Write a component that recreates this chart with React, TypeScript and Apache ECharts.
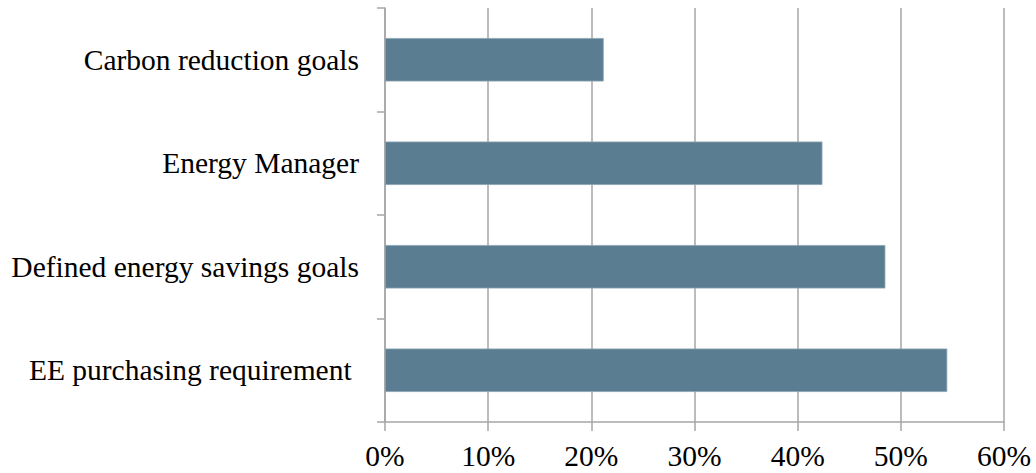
import React, { useEffect, useRef } from "react";
import * as echarts from "echarts";

const categories = [
  "Carbon reduction goals",
  "Energy Manager",
  "Defined energy savings goals",
  "EE purchasing requirement ",
];
const values = [21.2, 42.4, 48.5, 54.5];
const xTicks = { min: 0, max: 60, interval: 10 };

export default function App() {
  const ref = useRef<HTMLDivElement>(null);
  useEffect(() => {
    const chart = echarts.init(ref.current!, null, { renderer: "svg" });
    const font = "'Liberation Serif', 'Times New Roman', serif";
    const grey = "#a6a6a6";
    chart.setOption({
      animation: false,
      grid: { left: 385, right: 32, top: 8, bottom: 51, containLabel: false },
      xAxis: {
        type: "value",
        min: xTicks.min,
        max: xTicks.max,
        interval: xTicks.interval,
        axisLine: { show: true, lineStyle: { color: grey, width: 1.5 } },
        axisTick: { show: true, length: 9, lineStyle: { color: grey, width: 1.5 } },
        splitLine: { show: true, lineStyle: { color: grey, width: 1.5 } },
        axisLabel: {
          formatter: "{value}%",
          color: "#000",
          fontFamily: font,
          fontSize: 29.5,
          margin: 19,
        },
      },
      yAxis: {
        type: "category",
        data: categories,
        inverse: true,
        axisLine: { show: true, lineStyle: { color: grey, width: 1.5 } },
        axisTick: { show: true, length: 8, lineStyle: { color: grey, width: 1.5 } },
        axisLabel: {
          color: "#000",
          fontFamily: font,
          fontSize: 29.5,
          margin: 26,
        },
      },
      series: [
        {
          type: "bar",
          data: values,
          barWidth: "42%",
          itemStyle: { color: "#5b7d91", borderColor: "#8aa3b2", borderWidth: 0.8 },
        },
      ],
    });
    return () => chart.dispose();
  }, []);
  return (
    <div
      ref={ref}
      style={{ position: "absolute", left: 0, top: 0, width: 1036, height: 473, background: "#fff" }}
    />
  );
}
